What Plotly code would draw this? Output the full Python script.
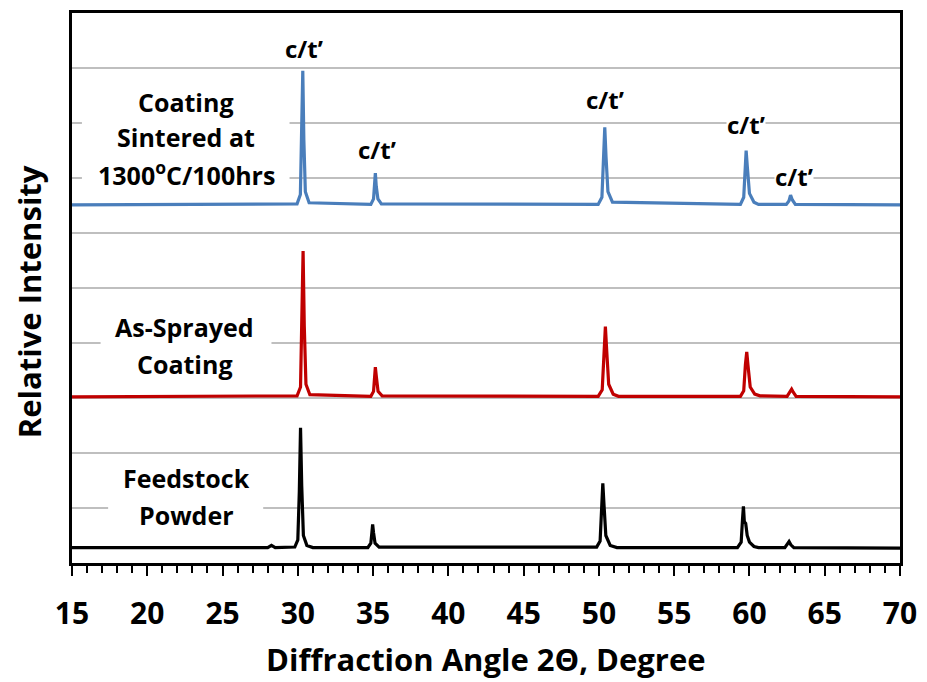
import plotly.graph_objects as go

# ---- data (2-theta in degrees, relative intensity with vertical offsets) ----
sint_x = [15, 29.95, 30.17, 30.26, 30.33, 30.40, 30.50, 30.75,
          34.85, 35.03, 35.09, 35.15, 35.21, 35.32, 35.55,
          49.95, 50.20, 50.30, 50.39, 50.47, 50.60, 50.90,
          59.40, 59.62, 59.71, 59.78, 59.86, 60.00, 60.30, 60.60,
          62.45, 62.62, 62.73, 62.85, 63.05, 70]
sint_y = [6.51, 6.53, 6.70, 7.70, 8.95, 7.70, 6.75, 6.55,
          6.52, 6.62, 6.85, 7.09, 6.85, 6.62, 6.53,
          6.52, 6.65, 7.30, 7.92, 7.40, 6.75, 6.56,
          6.52, 6.65, 7.15, 7.50, 7.20, 6.72, 6.56, 6.52,
          6.52, 6.58, 6.69, 6.60, 6.52, 6.51]

spray_x = [15, 29.95, 30.18, 30.27, 30.35, 30.43, 30.54, 30.80,
           34.85, 35.03, 35.09, 35.15, 35.22, 35.33, 35.60,
           49.95, 50.22, 50.33, 50.43, 50.52, 50.65, 50.95, 51.30,
           59.40, 59.62, 59.73, 59.82, 59.90, 60.05, 60.35, 60.70,
           62.50, 62.68, 62.80, 62.92, 63.10, 70]
spray_y = [3.02, 3.04, 3.20, 4.30, 5.67, 4.30, 3.25, 3.06,
           3.03, 3.12, 3.38, 3.56, 3.38, 3.12, 3.04,
           3.03, 3.15, 3.80, 4.30, 3.85, 3.25, 3.07, 3.03,
           3.03, 3.13, 3.60, 3.84, 3.60, 3.20, 3.07, 3.04,
           3.03, 3.10, 3.16, 3.10, 3.03, 3.02]

feed_x = [15, 28.00, 28.25, 28.50,
          29.80, 30.00, 30.10, 30.18, 30.26, 30.37, 30.60, 31.00,
          34.65, 34.85, 34.92, 34.97, 35.03, 35.13, 35.40,
          49.85, 50.08, 50.18, 50.26, 50.34, 50.46, 50.75, 51.20,
          59.20, 59.45, 59.54, 59.60, 59.66, 59.75, 59.85, 60.00, 60.30, 60.60,
          62.35, 62.52, 62.63, 62.75, 62.95, 70]
feed_y = [0.28, 0.28, 0.32, 0.28,
          0.29, 0.42, 1.30, 2.46, 1.40, 0.50, 0.32, 0.28,
          0.28, 0.36, 0.55, 0.70, 0.55, 0.36, 0.29,
          0.29, 0.40, 1.00, 1.45, 1.05, 0.50, 0.32, 0.28,
          0.28, 0.38, 0.80, 1.03, 0.75, 0.72, 0.50, 0.38, 0.30, 0.28,
          0.28, 0.34, 0.39, 0.33, 0.28, 0.27]

peak_label = "c/t\u2019"
peak_label_pos = [(30.4, 9.35), (35.25, 7.52), (50.4, 8.42), (59.75, 7.98), (62.95, 7.02)]

sample_labels = [
    (["Coating", "Sintered at", "1300<sup>o</sup>C/100hrs"], 22.6, [8.39, 7.74, 7.08]),
    (["As-Sprayed", "Coating"], 22.5, [4.29, 3.62]),
    (["Feedstock", "Powder"], 22.6, [1.54, 0.87]),
]
label_boxes = [(15.66, 29.45, 6.75, 8.75), (16.9, 28.25, 3.3, 4.7), (17.4, 27.7, 0.6, 1.95)]

xticks = [15, 20, 25, 30, 35, 40, 45, 50, 55, 60, 65, 70]

FONT = "Open Sans"

fig = go.Figure()
fig.add_trace(go.Scatter(x=feed_x, y=feed_y, mode="lines",
                         line=dict(color="#000000", width=3.2), name="Feedstock Powder"))
fig.add_trace(go.Scatter(x=spray_x, y=spray_y, mode="lines",
                         line=dict(color="#C00000", width=3.2), name="As-Sprayed Coating"))
fig.add_trace(go.Scatter(x=sint_x, y=sint_y, mode="lines",
                         line=dict(color="#4A7EBB", width=3.2), name="Sintered"))

for x0, x1, y0, y1 in label_boxes:
    fig.add_shape(type="rect", x0=x0, x1=x1, y0=y0, y1=y1, xref="x", yref="y",
                  fillcolor="white", line=dict(width=0), layer="between")

for lines, xc, ys in sample_labels:
    for t, yy in zip(lines, ys):
        fig.add_annotation(x=xc, y=yy, xref="x", yref="y", text=t, showarrow=False,
                           font=dict(family=FONT, size=25, color="black", weight="bold"),
                           xanchor="center", yanchor="middle")

for px, py in peak_label_pos:
    fig.add_annotation(x=px, y=py, xref="x", yref="y", text=peak_label, showarrow=False,
                       font=dict(family=FONT, size=24, color="black", weight="bold"),
                       bgcolor="white", borderpad=0, xanchor="center", yanchor="middle")

fig.add_annotation(x=-0.051, y=0.4756, xref="paper", yref="paper", text="Relative Intensity",
                   textangle=-90, showarrow=False, xanchor="center", yanchor="middle",
                   font=dict(family=FONT, size=31, color="black", weight="bold"))
fig.add_annotation(x=0.5, y=-0.175, xref="paper", yref="paper",
                   text="Diffraction Angle 2\u0398, Degree", showarrow=False,
                   xanchor="center", yanchor="middle",
                   font=dict(family=FONT, size=31, color="black", weight="bold"))

fig.update_xaxes(range=[15, 70], tickvals=xticks, ticks="outside", ticklen=10, tickwidth=2,
                 tickcolor="black", showline=True, linecolor="black", linewidth=2.5, mirror=True,
                 showgrid=False, zeroline=False, ticklabelstandoff=12,
                 tickfont=dict(family=FONT, size=30, color="black", weight="bold"),
                 minor=dict(dtick=1, ticks="outside", ticklen=7, tickwidth=2, tickcolor="black",
                            showgrid=False))
fig.update_yaxes(range=[0, 10], dtick=1, showticklabels=False, ticks="", showline=True,
                 linecolor="black", linewidth=2.5, mirror=True, showgrid=True,
                 gridcolor="#BFBFBF", gridwidth=1.5, zeroline=False)

fig.update_layout(width=927, height=682, margin=dict(l=72, r=25, t=10, b=119),
                  plot_bgcolor="white", paper_bgcolor="white", showlegend=False,
                  font=dict(family=FONT))

fig.write_html("out.html", config={"displayModeBar": False},
               post_script="document.body.style.margin='0px';")
